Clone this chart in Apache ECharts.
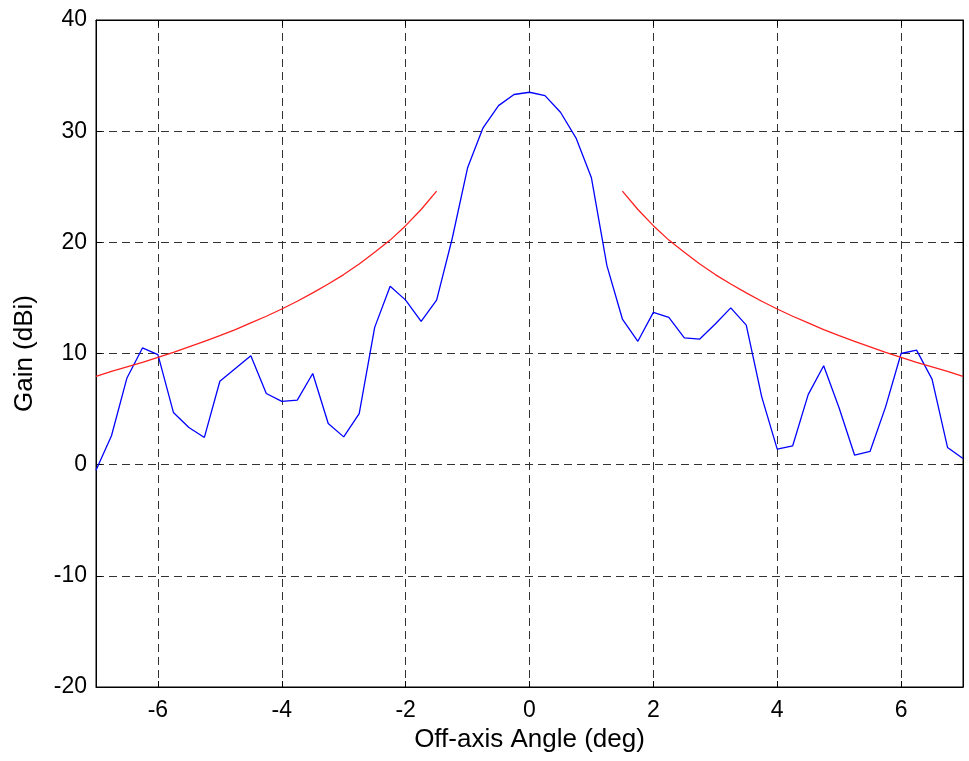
<!DOCTYPE html>
<html>
<head>
<meta charset="utf-8">
<script src="https://cdn.jsdelivr.net/npm/echarts@6/dist/echarts.min.js"></script>
<style>
html,body{margin:0;padding:0;background:#fff;}
#chart{width:969px;height:761px;}
</style>
</head>
<body>
<div id="chart"></div>
<script>
// Measured antenna pattern (blue)
var angles = [-7,-6.75,-6.5,-6.25,-6,-5.75,-5.5,-5.25,-5,-4.75,-4.5,-4.25,-4,-3.75,-3.5,-3.25,-3,-2.75,-2.5,-2.25,-2,-1.75,-1.5,-1.25,-1,-0.75,-0.5,-0.25,0,
              0.25,0.5,0.75,1,1.25,1.5,1.75,2,2.25,2.5,2.75,3,3.25,3.5,3.75,4,4.25,4.5,4.75,5,5.25,5.5,5.75,6,6.25,6.5,6.75,7];
var gain = [-0.5,2.6,7.8,10.5,9.9,4.7,3.35,2.45,7.5,8.65,9.8,6.4,5.7,5.8,8.2,3.7,2.5,4.6,12.35,16.05,14.8,12.9,14.8,20.3,26.7,30.3,32.3,33.3,33.5,
            33.2,31.7,29.4,25.8,17.9,13.1,11.1,13.7,13.25,11.4,11.3,12.65,14.1,12.55,6.1,1.4,1.7,6.3,8.9,5.1,0.85,1.2,5.2,10.0,10.3,7.7,1.55,0.55];
// Sidelobe mask (red), left and right branches
var maskAnglesLeft = [-7,-6.75,-6.5,-6.25,-6,-5.75,-5.5,-5.25,-5,-4.75,-4.5,-4.25,-4,-3.75,-3.5,-3.25,-3,-2.75,-2.5,-2.25,-2,-1.75,-1.5];
var maskLeft = [7.95,8.4,8.8,9.2,9.65,10.1,10.6,11.1,11.6,12.15,12.75,13.35,14.0,14.7,15.45,16.25,17.1,18.05,19.1,20.2,21.5,22.95,24.6];
var maskAnglesRight = [1.5,1.75,2,2.25,2.5,2.75,3,3.25,3.5,3.75,4,4.25,4.5,4.75,5,5.25,5.5,5.75,6,6.25,6.5,6.75,7];
var maskRight = [24.6,22.95,21.5,20.2,19.1,18.05,17.1,16.25,15.45,14.7,14.0,13.35,12.75,12.15,11.6,11.1,10.6,10.1,9.65,9.2,8.8,8.4,7.95];
var xTicks = [-6,-4,-2,0,2,4,6];
var yTicks = [-20,-10,0,10,20,30,40];

function zip(a,b){var r=[];for(var i=0;i<a.length;i++)r.push([a[i],b[i]]);return r;}

var FONT = 'Liberation Sans, Arial, Helvetica, sans-serif';
var chart = echarts.init(document.getElementById('chart'), null, {renderer:'canvas'});
var gridLine = {show:true, lineStyle:{color:'#333', width:1, type:[8,5]}};
chart.setOption({
  animation:false,
  backgroundColor:'#fff',
  grid:{left:96, right:6, top:20, bottom:74, show:true, borderColor:'#000', borderWidth:1, backgroundColor:'transparent'},
  xAxis:[{
    type:'value', min:-7, max:7, position:'bottom',
    name:'Off-axis Angle (deg)', nameLocation:'middle', nameGap:32,
    nameTextStyle:{fontFamily:FONT, fontSize:26, color:'#000'},
    axisLine:{show:true, onZero:false, lineStyle:{color:'#000', width:1}},
    axisTick:{show:true, inside:true, length:6, customValues:xTicks, lineStyle:{color:'#000'}},
    axisLabel:{show:true, customValues:xTicks, margin:12, fontFamily:FONT, fontSize:23, color:'#000'},
    splitLine:gridLine
  },{
    type:'value', min:-7, max:7, position:'top',
    axisLine:{show:true, onZero:false, lineStyle:{color:'#000', width:1}},
    axisTick:{show:true, inside:true, length:6, customValues:xTicks, lineStyle:{color:'#000'}},
    axisLabel:{show:false}, splitLine:{show:false}
  }],
  yAxis:[{
    type:'value', min:-20, max:40, interval:10, position:'left',
    name:'Gain (dBi)', nameLocation:'middle', nameGap:58, nameRotate:90,
    nameTextStyle:{fontFamily:FONT, fontSize:26, color:'#000'},
    axisLine:{show:true, onZero:false, lineStyle:{color:'#000', width:1}},
    axisTick:{show:true, inside:true, length:6, lineStyle:{color:'#000'}},
    axisLabel:{show:true, margin:9, fontFamily:FONT, fontSize:23, color:'#000'},
    splitLine:gridLine
  },{
    type:'value', min:-20, max:40, interval:10, position:'right',
    axisLine:{show:true, onZero:false, lineStyle:{color:'#000', width:1}},
    axisTick:{show:true, inside:true, length:6, lineStyle:{color:'#000'}},
    axisLabel:{show:false}, splitLine:{show:false}
  }],
  series:[
    {type:'line', data:zip(angles,gain), showSymbol:false, symbol:'none', lineStyle:{color:'#0000ff', width:1.3}, z:3},
    {type:'line', data:zip(maskAnglesLeft,maskLeft), showSymbol:false, symbol:'none', lineStyle:{color:'#ff2020', width:1.3}, z:4},
    {type:'line', data:zip(maskAnglesRight,maskRight), showSymbol:false, symbol:'none', lineStyle:{color:'#ff2020', width:1.3}, z:4}
  ]
});
</script>
</body>
</html>
